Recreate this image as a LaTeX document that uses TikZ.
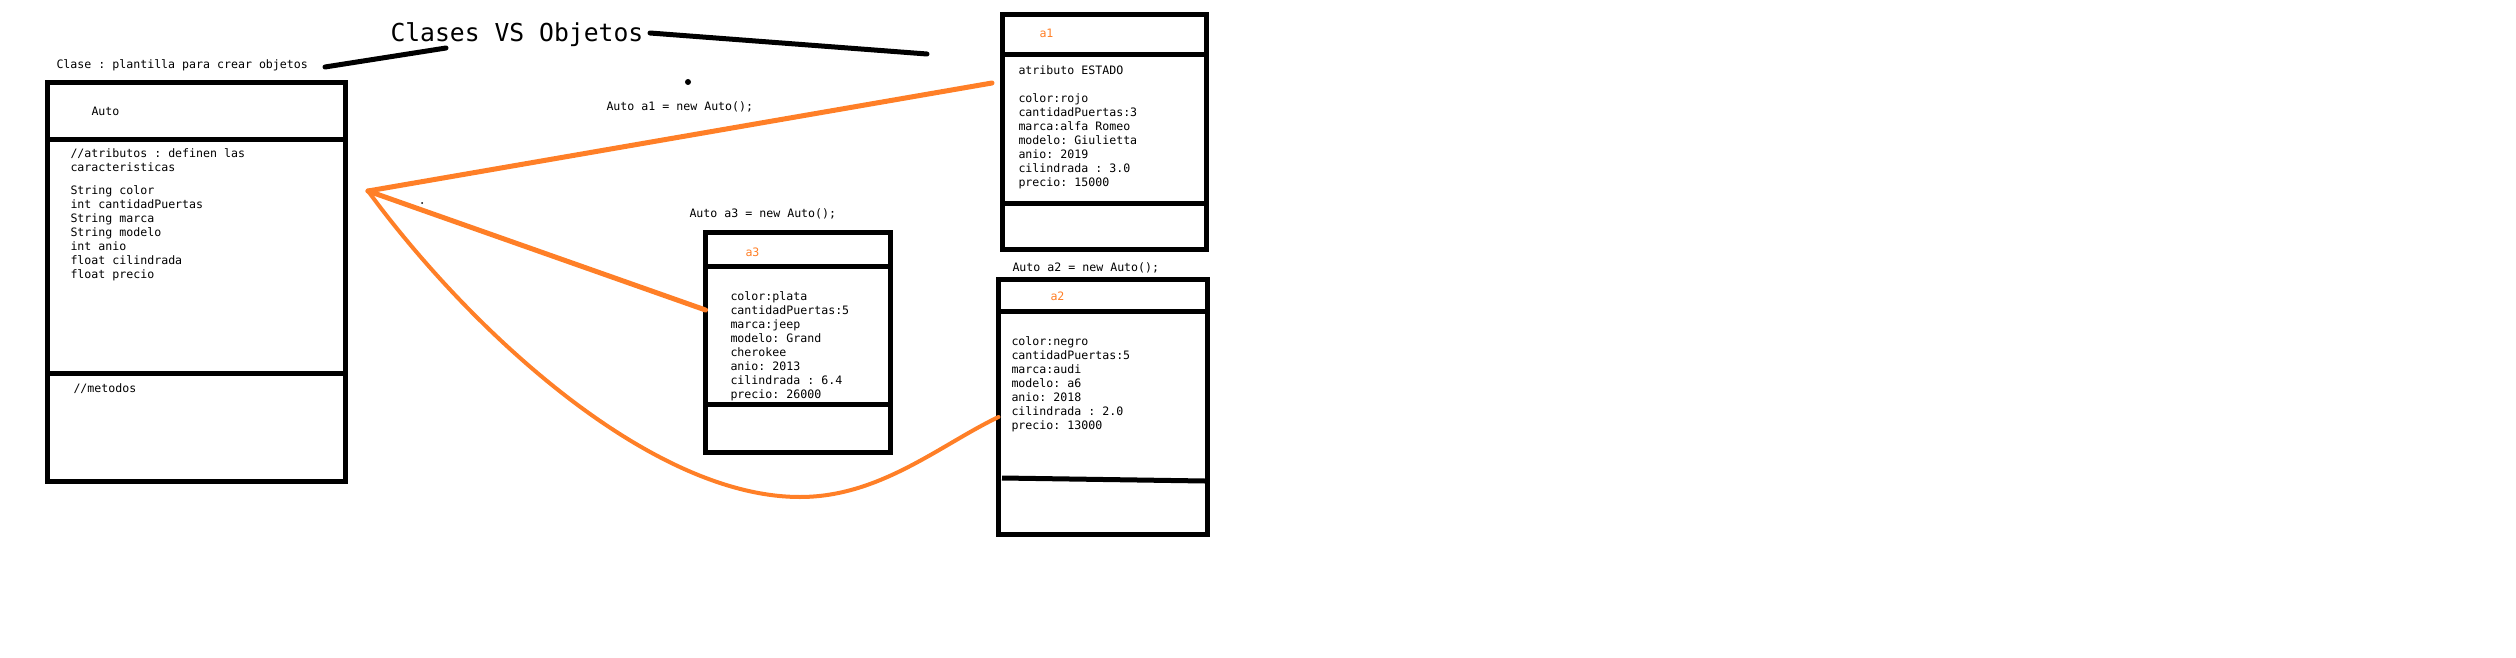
\documentclass[tikz,border=0pt]{standalone}
\usepackage{fontspec}
\setmonofont{DejaVu Sans Mono}
\usepackage{xcolor}
\definecolor{paint}{HTML}{FF7F27}
\usepackage{tikz}
\usetikzlibrary{positioning}

\begin{document}
\begin{tikzpicture}[x=1pt,y=-1pt,line width=5pt,
    compart/.style={draw,inner sep=0pt,outer sep=0pt,anchor=north west},
    txt/.style={font=\ttfamily\fontsize{11.6}{14}\selectfont,inner sep=0pt,anchor=base west},
    bloque/.style={txt,align=left,anchor=north west,execute at begin node=\strut},
    titulo/.style={font=\ttfamily\fontsize{24.7}{28}\selectfont,inner sep=0pt,anchor=base west},
    trazo/.style={line width=5pt,line cap=round},
    enlace/.style={paint,line width=5pt,line cap=round,line join=round}]
  \useasboundingbox (0,0) rectangle (2516,658);

  % titulo
  \node[titulo] (titulo) at (388,42) {Clases VS Objetos};
  \node[txt] (clase) at (54,69) {Clase : plantilla para crear objetos};
  \coordinate (c1) at (325,67);
  \coordinate (c2) at (446,48);
  \coordinate (c3) at (650,33);
  \coordinate (c4) at (927,54);
  \draw[trazo] (c1) -- (c2);
  \draw[trazo] (c3) -- (c4);
  \fill (688,82) circle (3);
  \fill (422,203) circle (1);

  % clase Auto
  \node[compart,minimum width=298,minimum height=57] (autohead) at (47.5,83) {};
  \node[compart,minimum width=298,minimum height=233,below=0pt of autohead] (autobody) {};
  \node[compart,minimum width=298,minimum height=108,below=0pt of autobody] (automet) {};
  \node[txt] (autoname) at (89,116) {Auto};
  \node[bloque] (autoattr) at (68,146.2) {//atributos : definen las\\caracteristicas\\[9pt]String color\\int cantidadPuertas\\String marca\\String modelo\\int anio\\float cilindrada\\float precio};
  \node[txt] (autometodos) at (71,392) {//metodos};

  % objeto a1
  \node[txt] (a1new) at (604,111) {Auto a1 = new Auto();};
  \node[compart,minimum width=204,minimum height=39.5] (a1head) at (1002,15) {};
  \node[compart,minimum width=204,minimum height=149,below=0pt of a1head] (a1body) {};
  \node[compart,minimum width=204,minimum height=46,below=0pt of a1body] (a1foot) {};
  \node[txt,text=paint] (a1name) at (1037,38) {a1};
  \node[bloque] (a1attr) at (1016,63.2) {atributo ESTADO\\[14pt]color:rojo\\cantidadPuertas:3\\marca:alfa Romeo\\modelo: Giulietta\\anio: 2019\\cilindrada : 3.0\\precio: 15000};

  % objeto a3
  \node[txt] (a3new) at (687,217) {Auto a3 = new Auto();};
  \node[compart,minimum width=184.5,minimum height=34] (a3head) at (705.5,232) {};
  \node[compart,minimum width=184.5,minimum height=138.5,below=0pt of a3head] (a3body) {};
  \node[compart,minimum width=184.5,minimum height=48,below=0pt of a3body] (a3foot) {};
  \node[txt,text=paint] (a3name) at (743,256) {a3};
  \node[bloque] (a3attr) at (728,289.2) {color:plata\\cantidadPuertas:5\\marca:jeep\\modelo: Grand\\cherokee\\anio: 2013\\cilindrada : 6.4\\precio: 26000};

  % objeto a2
  \node[txt] (a2new) at (1010,271) {Auto a2 = new Auto();};
  \node[compart,minimum width=209,minimum height=32] (a2head) at (998.5,279.5) {};
  \node[compart,minimum width=209,minimum height=223,below=0pt of a2head] (a2body) {};
  \node[txt,text=paint] (a2name) at (1048,300) {a2};
  \node[bloque] (a2attr) at (1009,334.2) {color:negro\\cantidadPuertas:5\\marca:audi\\modelo: a6\\anio: 2018\\cilindrada : 2.0\\precio: 13000};
  \draw[trazo,line cap=butt] (1002,478) -- (1205,481);

  % enlaces clase -> objetos
  \coordinate (raiz) at (368,191);
  \draw[enlace] (raiz) -- ([shift={(-10pt,-28.5pt)}]a1body.north west);
  \draw[enlace] (raiz) -- ([yshift=-44pt]a3body.north west);
  \draw[enlace,line width=4pt] (raiz) .. controls (470,330) and (650,497) .. (800,497)
    .. controls (880,497) and (940,445) .. ([yshift=-105.5pt]a2body.north west);
\end{tikzpicture}
\end{document}
